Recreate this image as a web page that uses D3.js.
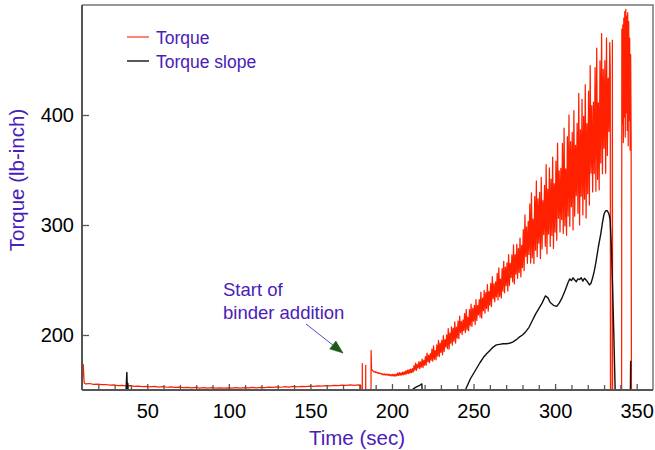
<!DOCTYPE html>
<html><head><meta charset="utf-8">
<script src="https://cdn.jsdelivr.net/npm/d3@7"></script>
<style>
html,body{margin:0;padding:0;background:#fff;}
svg{display:block;font-family:"Liberation Sans",Arial,sans-serif;}
</style></head>
<body><svg id="chart" width="655" height="450"></svg>
<script>
// ---------- data ----------
const xDomain = [10, 360];
const yDomain = [150, 500];
const xMajorTicks = [50, 100, 150, 200, 250, 300, 350];
const xMinorTicks = [20, 30, 40, 60, 70, 80, 90, 110, 120, 130, 140, 160, 170, 180, 190, 210, 220, 230, 240, 260, 270, 280, 290, 310, 320, 330, 340];
const yTicks = [200, 300, 400];
const seriesNames = ["Torque", "Torque slope"];

// Torque: flat stage and binder-addition spikes  [time, torque]
const torqueStart = [
  [10.2, 160], [10.8, 173], [11.3, 156.5], [12, 155.6], [14.5, 155.9], [17, 155.2], [19.5, 155.4], [22, 154.8],
  [24.5, 155.0], [27, 154.4], [29.5, 154.6], [32, 154.0], [34.5, 154.2], [37, 153.7], [39.5, 153.9], [42, 153.4],
  [44.5, 153.6], [47, 153.1], [49.5, 153.4], [52, 152.9], [54.5, 153.2], [57, 152.7], [59.5, 153.0], [62, 152.5],
  [64.5, 152.8], [67, 152.3], [69.5, 152.6], [72, 152.1], [74.5, 152.4], [77, 151.9], [79.5, 152.3], [82, 151.8],
  [84.5, 152.2], [87, 151.7], [89.5, 152.1], [92, 151.6], [94.5, 152.0], [97, 151.6], [99.5, 152.0], [102, 151.7],
  [104.5, 152.1], [107, 151.8], [109.5, 152.2], [112, 151.9], [114.5, 152.3], [117, 152.0], [119.5, 152.4], [122, 152.1],
  [124.5, 152.6], [127, 152.3], [129.5, 152.8], [132, 152.5], [134.5, 153.0], [137, 152.7], [139.5, 153.2], [142, 152.9],
  [144.5, 153.4], [147, 153.1], [149.5, 153.6], [152, 153.3], [154.5, 153.8], [157, 153.5], [159.5, 154.0], [162, 153.7],
  [164.5, 154.2], [167, 153.9], [169.5, 154.4], [172, 154.1], [174.5, 154.6], [177, 154.3], [179.5, 154.7], [180.8, 154.4],
  [181.2, 0], [181.6, 0], [181.8, 174], [182.0, 0], [183.7, 0], [183.9, 172.5], [184.1, 0],
  [187.0, 0], [187.2, 186], [187.5, 169], [188.0, 167.8]
];
// Torque: oscillating mixing stage, sampled every 0.5 s from 188.5 s
const torqueOscStart = 188.5;
const torqueOscStep = 0.5;
const torqueOsc = [
  167.2, 166.4, 166.8, 165.9, 166.3, 165.4, 165.8, 165.0, 165.5, 164.6,
  165.0, 164.0, 164.7, 163.7, 164.6, 163.6, 164.4, 163.5, 164.5, 163.3,
  164.2, 163.0, 164.0, 162.7, 164.3, 162.8, 164.1, 162.6, 164.4, 162.9,
  165.3, 163.2, 165.8, 163.4, 165.6, 163.5, 166.2, 163.9, 166.5, 164.0,
  167.4, 164.6, 168.0, 165.0, 168.6, 165.3, 169.0, 165.8, 169.5, 166.2,
  172.2, 168.0, 174.5, 167.9, 173.3, 170.0, 175.7, 169.5, 175.5, 170.9,
  178.1, 170.4, 176.9, 172.7, 180.4, 172.5, 183.6, 175.7, 181.7, 174.9,
  183.1, 177.2, 187.2, 176.2, 190.2, 178.0, 185.9, 177.5, 191.1, 180.9,
  195.0, 180.4, 192.7, 184.2, 195.2, 182.0, 199.5, 185.0, 195.8, 189.1,
  200.2, 187.6, 205.8, 187.1, 201.7, 192.5, 207.4, 190.9, 206.1, 194.4,
  212.0, 192.7, 207.1, 197.3, 212.7, 196.6, 217.2, 202.2, 212.3, 200.4,
  213.7, 203.9, 219.5, 202.2, 223.2, 204.7, 216.2, 203.9, 223.1, 208.6,
  228.0, 207.8, 224.2, 212.6, 227.0, 209.5, 232.2, 213.2, 226.9, 218.3,
  232.2, 216.2, 239.0, 215.4, 233.6, 222.0, 240.5, 219.9, 238.6, 224.1,
  245.7, 221.7, 239.7, 227.1, 246.9, 225.9, 253.0, 232.9, 246.5, 230.2,
  248.3, 234.6, 256.1, 231.9, 261.0, 235.0, 250.9, 233.6, 260.4, 239.8,
  267.0, 238.4, 261.6, 244.9, 265.6, 240.0, 273.1, 245.1, 265.2, 252.1,
  272.8, 248.4, 282.0, 246.4, 273.0, 255.4, 282.3, 251.5, 278.6, 256.9,
  288.1, 252.8, 281.4, 261.2, 295.7, 258.5, 309.2, 271.3, 298.4, 265.2,
  303.4, 273.3, 319.2, 265.4, 329.2, 270.3, 305.4, 264.9, 325.8, 277.1,
  340.0, 271.2, 323.8, 283.5, 329.6, 269.5, 343.3, 278.3, 322.1, 291.3,
  336.0, 280.7, 354.8, 273.8, 332.6, 291.8, 351.9, 280.5, 341.6, 290.5,
  361.6, 278.7, 337.5, 293.6, 358.0, 286.1, 374.4, 306.1, 349.1, 293.7,
  351.5, 305.0, 374.3, 292.3, 388.0, 299.1, 351.1, 290.6, 380.3, 308.1,
  400.0, 298.9, 375.9, 316.6, 384.1, 295.5, 403.9, 308.0, 372.3, 326.7,
  392.4, 310.6, 419.6, 300.1, 386.5, 326.2, 414.3, 309.2, 398.7, 323.5,
  427.6, 306.3, 392.1, 328.5, 421.6, 318.1, 444.8, 347.2, 408.5, 330.1,
  411.8, 346.8, 443.0, 330.7, 460.8, 341.5, 411.1, 332.0, 449.3, 356.4,
  474.0, 346.5, 441.5, 369.8, 449.5, 347.0, 470.0, 363.2, 433.5, 385.1, 465.8
];
// Torque: end of run  [time, torque]
const torqueEnd = [
  [333.8, 440], [334.0, 0], [334.9, 0], [335.1, 468], [335.3, 0], [340.7, 0],
  [340.9, 478], [341.2, 392], [341.5, 482], [341.8, 375], [342.1, 488], [342.4, 398],
  [342.7, 494], [343.0, 380], [343.3, 496], [343.6, 402], [343.9, 490], [344.2, 386],
  [344.5, 493], [344.8, 372], [345.1, 485], [345.4, 395], [345.7, 470], [346.0, 368],
  [346.3, 455], [346.6, 380], [346.9, 0]
];
// Torque slope  [time, value]
const slope = [
  [36.8, 140], [37.2, 157], [37.5, 166], [37.8, 150], [38.1, 156], [38.5, 140],
  [211.5, 140], [212, 148], [213, 151], [215, 152.8], [217, 154.3], [218.3, 155.5], [218.8, 140],
  [244.3, 140], [245, 150], [246.5, 155], [248, 160], [250, 165], [252, 170], [254, 175],
  [256, 179.5], [258, 183], [260, 186], [262, 189], [264, 191], [266, 191.5], [268, 192],
  [270, 192], [272, 192.5], [274, 193.5], [276, 195.5], [278, 198], [280, 200], [282, 203],
  [284, 207], [286, 213], [288, 219], [290, 224], [292, 229], [294, 235.5], [295.5, 234],
  [297, 229.5], [299, 227], [301, 226], [302.5, 229], [304, 233], [306, 240], [308, 248],
  [309, 251], [310, 249.5], [311, 252], [312, 250], [313, 248.5], [314, 251], [315, 250.5],
  [316, 252], [317, 249], [318, 251.5], [319, 250], [320, 248], [321, 245.5], [322, 247],
  [323, 252], [324, 258], [325, 266], [326.5, 280], [328, 292], [329, 302], [330, 310],
  [331, 313], [332, 313], [333, 310], [333.7, 305], [334.5, 280], [335.2, 245], [336, 200],
  [336.8, 150], [337.3, 120], [346.0, 120], [346.3, 176.5]
];
const annotationLines = ["Start of", "binder addition"];
const annotationTarget = [170, 183.6];

// ---------- chart ----------
const svg = d3.select("#chart");
const m = {left: 82, right: 2, top: 5, bottom: 60};
const W = 655, H = 450;
const x = d3.scaleLinear().domain(xDomain).range([m.left, W - m.right]);
const y = d3.scaleLinear().domain(yDomain).range([H - m.bottom, m.top]);
const purple = "#4a20b8";
const frame = "#555";

svg.append("defs").append("clipPath").attr("id", "plotclip")
  .append("rect").attr("x", x(xDomain[0])).attr("y", y(yDomain[1]))
  .attr("width", x(xDomain[1]) - x(xDomain[0])).attr("height", y(yDomain[0]) - y(yDomain[1]));

const torque = torqueStart
  .concat(torqueOsc.map((v, i) => [torqueOscStart + i * torqueOscStep, v]))
  .concat(torqueEnd);

const line = d3.line().x(d => x(d[0])).y(d => y(d[1]));
const plot = svg.append("g").attr("clip-path", "url(#plotclip)");
plot.append("path").datum(torque).attr("d", line)
  .attr("fill", "none").attr("stroke", "#ff2000").attr("stroke-width", 1.25).attr("stroke-linejoin", "round");
plot.append("path").datum(slope).attr("d", line)
  .attr("fill", "none").attr("stroke", "#111").attr("stroke-width", 1.4).attr("stroke-linejoin", "round");

// frame top/right
svg.append("path")
  .attr("d", `M${x(xDomain[0])},${y(yDomain[1])}H${x(xDomain[1])}V${y(yDomain[0])}`)
  .attr("fill", "none").attr("stroke", "#777").attr("stroke-width", 1.5);

// x axis
const xAxis = svg.append("g").attr("transform", `translate(0,${y(yDomain[0])})`);
xAxis.call(d3.axisBottom(x).tickValues(xMinorTicks).tickSize(-5).tickFormat(""))
  .call(g => g.select(".domain").remove());
const xMaj = svg.append("g").attr("transform", `translate(0,${y(yDomain[0])})`)
  .call(d3.axisBottom(x).tickValues(xMajorTicks).tickSize(-6).tickPadding(14).tickFormat(d3.format("d")));
xMaj.select(".domain").attr("stroke", frame).attr("stroke-width", 2).attr("d", `M${x(xDomain[0])},0H${x(xDomain[1])}`);
svg.selectAll(".tick line").attr("stroke", frame).attr("stroke-width", 1.3);
xMaj.selectAll(".tick text").attr("font-size", 20).attr("fill", "#000")
  .attr("font-family", "Liberation Sans, Arial, sans-serif").attr("dy", "0.71em");

// y axis
const yAx = svg.append("g").attr("transform", `translate(${x(xDomain[0])},0)`)
  .call(d3.axisLeft(y).tickValues(yTicks).tickSize(-7).tickPadding(8).tickFormat(d3.format("d")));
yAx.select(".domain").attr("stroke", frame).attr("stroke-width", 2).attr("d", `M0,${y(yDomain[1])}V${y(yDomain[0])}`);
yAx.selectAll(".tick line").attr("stroke", frame).attr("stroke-width", 1.3);
yAx.selectAll(".tick text").attr("font-size", 20).attr("fill", "#000")
  .attr("font-family", "Liberation Sans, Arial, sans-serif");

// axis titles
svg.append("text").attr("x", 357).attr("y", 445).attr("text-anchor", "middle")
  .attr("font-size", 20.5).attr("fill", purple).text("Time (sec)");
svg.append("text").attr("transform", "translate(23.5,180) rotate(-90)").attr("text-anchor", "middle")
  .attr("font-size", 20.5).attr("fill", purple).text("Torque (lb-inch)");

// legend
const legendColors = ["#ff2000", "#111"];
seriesNames.forEach((n, i) => {
  const ly = 37 + i * 24;
  svg.append("line").attr("x1", 127).attr("x2", 149).attr("y1", ly).attr("y2", ly)
    .attr("stroke", legendColors[i]).attr("stroke-width", i ? 1.4 : 1.1);
  svg.append("text").attr("x", 156).attr("y", ly + 6.5).attr("font-size", 17.5)
    .attr("fill", purple).text(n);
});

// annotation
svg.append("text").attr("x", 223).attr("y", 296).attr("font-size", 18.5).attr("fill", purple).text(annotationLines[0]);
svg.append("text").attr("x", 223).attr("y", 318.5).attr("font-size", 18.5).attr("fill", purple).text(annotationLines[1]);
const ax0 = 306, ay0 = 324;
const tx = x(annotationTarget[0]), ty = y(annotationTarget[1]);
svg.append("line").attr("x1", ax0).attr("y1", ay0).attr("x2", tx).attr("y2", ty)
  .attr("stroke", "#5a48d0").attr("stroke-width", 1);
const ang = Math.atan2(ty - ay0, tx - ax0);
const hl = 13, hw = 5;
const bx = tx - hl * Math.cos(ang), by = ty - hl * Math.sin(ang);
svg.append("path").attr("d",
  `M${tx},${ty}L${bx - hw * Math.sin(ang)},${by + hw * Math.cos(ang)}L${bx + hw * Math.sin(ang)},${by - hw * Math.cos(ang)}Z`)
  .attr("fill", "#1e5a17").attr("stroke", "#1e5a17").attr("stroke-width", 0.5);
</script></body></html>
